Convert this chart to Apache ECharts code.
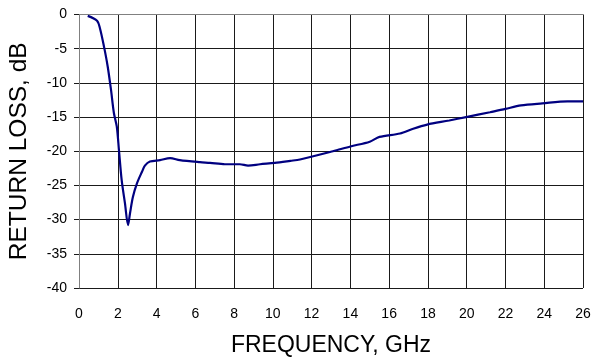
<!DOCTYPE html>
<html>
<head>
<meta charset="utf-8">
<script src="https://cdn.jsdelivr.net/npm/echarts@6/dist/echarts.min.js"></script>
<style>
  html, body { margin: 0; padding: 0; background: #fff; }
  #chart { width: 592px; height: 358px; }
</style>
</head>
<body>
<div id="chart"></div>
<script>
// frequency (GHz) and return loss (dB)
const freq = [0.45, 0.93, 1.08, 1.29, 1.48, 1.65, 1.8, 1.95, 2.06, 2.2, 2.37, 2.53, 2.63, 2.78, 2.99, 3.25, 3.4, 3.66, 4.18, 4.7, 5.2, 6.24, 6.76, 7.53, 8.3, 8.72, 9.34, 10.1, 10.9, 11.4, 13.1, 14.0, 15.0, 15.5, 16.56, 17.24, 17.96, 19.1, 19.97, 21.2, 22.0, 22.8, 23.9, 25.2, 26]
const loss = [-0.2, -0.9, -2.0, -4.7, -7.6, -11, -14.4, -16.4, -19.8, -24.2, -27.6, -30.8, -29.1, -26.7, -24.7, -23.0, -22.1, -21.5, -21.3, -21.0, -21.3, -21.6, -21.7, -21.9, -21.9, -22.1, -21.9, -21.7, -21.4, -21.2, -20.0, -19.3, -18.6, -17.9, -17.4, -16.7, -16.1, -15.5, -15.0, -14.3, -13.8, -13.3, -13.0, -12.7, -12.7]
const xTicks = { min: 0, max: 26, step: 2 }
const yTicks = { min: -40, max: 0, step: 5 }

const chart = echarts.init(document.getElementById('chart'))
const fontFamily = '"Liberation Sans", Arial, sans-serif'

const option = {
  animation: false,
  backgroundColor: '#fff',
  grid: { left: 79, right: 9, top: 14.5, bottom: 70, outerBoundsMode: 'none', containLabel: false },
  xAxis: {
    type: 'value',
    min: xTicks.min,
    max: xTicks.max,
    interval: xTicks.step,
    name: 'FREQUENCY, GHz',
    nameLocation: 'middle',
    nameGap: 46,
    nameTextStyle: { fontFamily, fontSize: 23, color: '#000' },
    axisLine: { lineStyle: { color: '#808080', width: 1 } },
    axisTick: { show: false },
    axisLabel: { fontFamily, fontSize: 14, color: '#000', margin: 19 },
    splitLine: { show: true, lineStyle: { color: '#1a1a1a', width: 1 } }
  },
  yAxis: {
    type: 'value',
    min: yTicks.min,
    max: yTicks.max,
    interval: yTicks.step,
    name: 'RETURN LOSS, dB',
    nameLocation: 'middle',
    nameGap: 47,
    nameTextStyle: { fontFamily, fontSize: 24.5, color: '#000' },
    axisLine: { show: true, lineStyle: { color: '#808080', width: 1 } },
    axisTick: { show: true, length: 5, lineStyle: { color: '#1a1a1a' } },
    axisLabel: { fontFamily, fontSize: 14, color: '#000', margin: 12 },
    splitLine: { show: true, lineStyle: { color: '#1a1a1a', width: 1 } }
  },
  series: [
    {
      name: 'Return loss',
      type: 'line',
      data: freq.map((f, i) => [f, loss[i]]),
      showSymbol: false,
      smooth: 0.3,
      lineStyle: { color: '#000080', width: 2.2 }
    }
  ]
}

chart.setOption(option)
</script>
</body>
</html>
